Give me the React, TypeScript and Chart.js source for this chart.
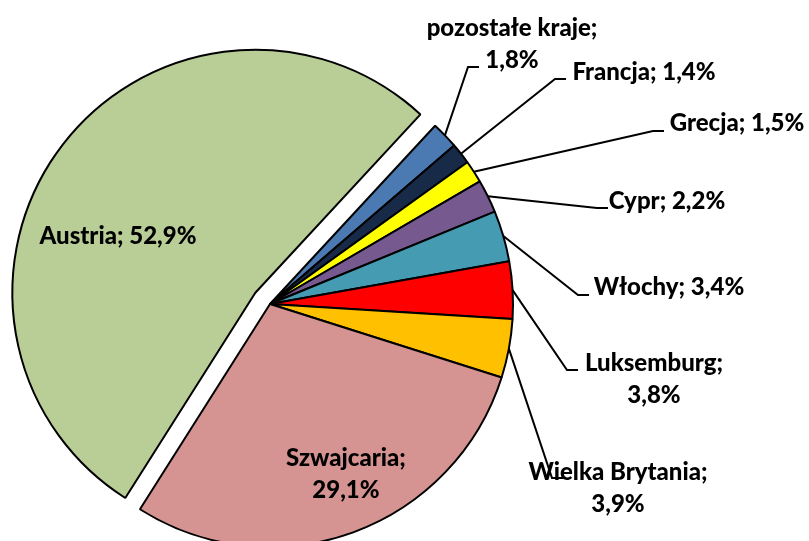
import React, { useEffect, useRef } from "react";
import { Chart, registerables } from "chart.js";

Chart.register(...registerables);

// ---- data ----
const categories = [
  "Austria",
  "pozostałe kraje",
  "Francja",
  "Grecja",
  "Cypr",
  "Włochy",
  "Luksemburg",
  "Wielka Brytania",
  "Szwajcaria",
];
const shares = [52.9, 1.8, 1.4, 1.5, 2.2, 3.4, 3.8, 3.9, 29.1];

// ---- styles ----
const sliceColors = [
  "#B9CD97",
  "#4A7AB1",
  "#172A48",
  "#FFFF00",
  "#765A8F",
  "#459BB1",
  "#FF0000",
  "#FFC000",
  "#D59392",
];
const EXPLODED_INDEX = 0;
const EXPLODE_PX = 18.5;
const FONT = "900 24px Lato";
const LINE_HEIGHT = 32;

// label layout: text centre (first line), whether to wrap value onto 2nd line, leader elbow
const labelLayout: { x: number; y: number; wrap: boolean; elbow?: [number, number] }[] = [
  { x: 118, y: 236, wrap: false },
  { x: 512, y: 28, wrap: true, elbow: [468, 67] },
  { x: 644, y: 72, wrap: false, elbow: [555, 79] },
  { x: 737, y: 123, wrap: false, elbow: [653, 131] },
  { x: 667, y: 201, wrap: false, elbow: [597, 208] },
  { x: 669, y: 287, wrap: false, elbow: [578, 295] },
  { x: 654, y: 363, wrap: true, elbow: [567, 370] },
  { x: 618, y: 472, wrap: true, elbow: [552, 478] },
  { x: 346, y: 458, wrap: true },
];

const fmt = (v: number) => v.toFixed(1).replace(".", ",") + "%";

const slicePlugin = {
  id: "sliceLabels",
  afterDatasetUpdate(chart: any) {
    const meta = chart.getDatasetMeta(0);
    const arc = meta.data[EXPLODED_INDEX];
    if (!arc) return;
    const mid = (arc.startAngle + arc.endAngle) / 2;
    arc.x += Math.cos(mid) * EXPLODE_PX;
    arc.y += Math.sin(mid) * EXPLODE_PX;
  },
  afterDatasetsDraw(chart: any) {
    const ctx = chart.ctx as CanvasRenderingContext2D;
    const meta = chart.getDatasetMeta(0);
    ctx.save();
    // leader lines
    ctx.strokeStyle = "#000";
    ctx.lineWidth = 2;
    meta.data.forEach((arc: any, i: number) => {
      const lay = labelLayout[i];
      if (!lay || !lay.elbow) return;
      const mid = (arc.startAngle + arc.endAngle) / 2;
      const ax = arc.x + Math.cos(mid) * arc.outerRadius;
      const ay = arc.y + Math.sin(mid) * arc.outerRadius;
      ctx.beginPath();
      ctx.moveTo(ax, ay);
      ctx.lineTo(lay.elbow[0], lay.elbow[1]);
      ctx.lineTo(lay.elbow[0] + 11, lay.elbow[1]);
      ctx.stroke();
    });
    // texts
    ctx.fillStyle = "#000";
    ctx.font = FONT;
    ctx.textAlign = "center";
    ctx.textBaseline = "middle";
    categories.forEach((name, i) => {
      const lay = labelLayout[i];
      const lines = lay.wrap
        ? [name + ";", fmt(shares[i])]
        : [name + "; " + fmt(shares[i])];
      lines.forEach((t, k) => ctx.fillText(t, lay.x, lay.y + k * LINE_HEIGHT));
    });
    ctx.restore();
  },
};

export default function App() {
  const ref = useRef<HTMLCanvasElement | null>(null);
  useEffect(() => {
    if (!ref.current) return;
    const chart = new Chart(ref.current, {
      type: "pie",
      data: {
        labels: categories,
        datasets: [
          {
            data: shares,
            backgroundColor: sliceColors,
            borderColor: "#000",
            borderWidth: 2,
            clip: false as any,
          },
        ],
      },
      options: {
        responsive: false,
        animation: false,
        events: [],
        rotation: 42.8 - (shares[0] / 100) * 360,
        radius: 243,
        layout: { padding: { left: 0, right: 269, top: 67, bottom: 0 } },
        plugins: {
          legend: { display: false },
          tooltip: { enabled: false },
        },
      },
      plugins: [slicePlugin],
    });
    return () => chart.destroy();
  }, []);
  return (
    <div style={{ position: "fixed", left: 0, top: 0, width: 809, height: 541, background: "#fff" }}>
      <canvas ref={ref} width={809} height={541} />
    </div>
  );
}
